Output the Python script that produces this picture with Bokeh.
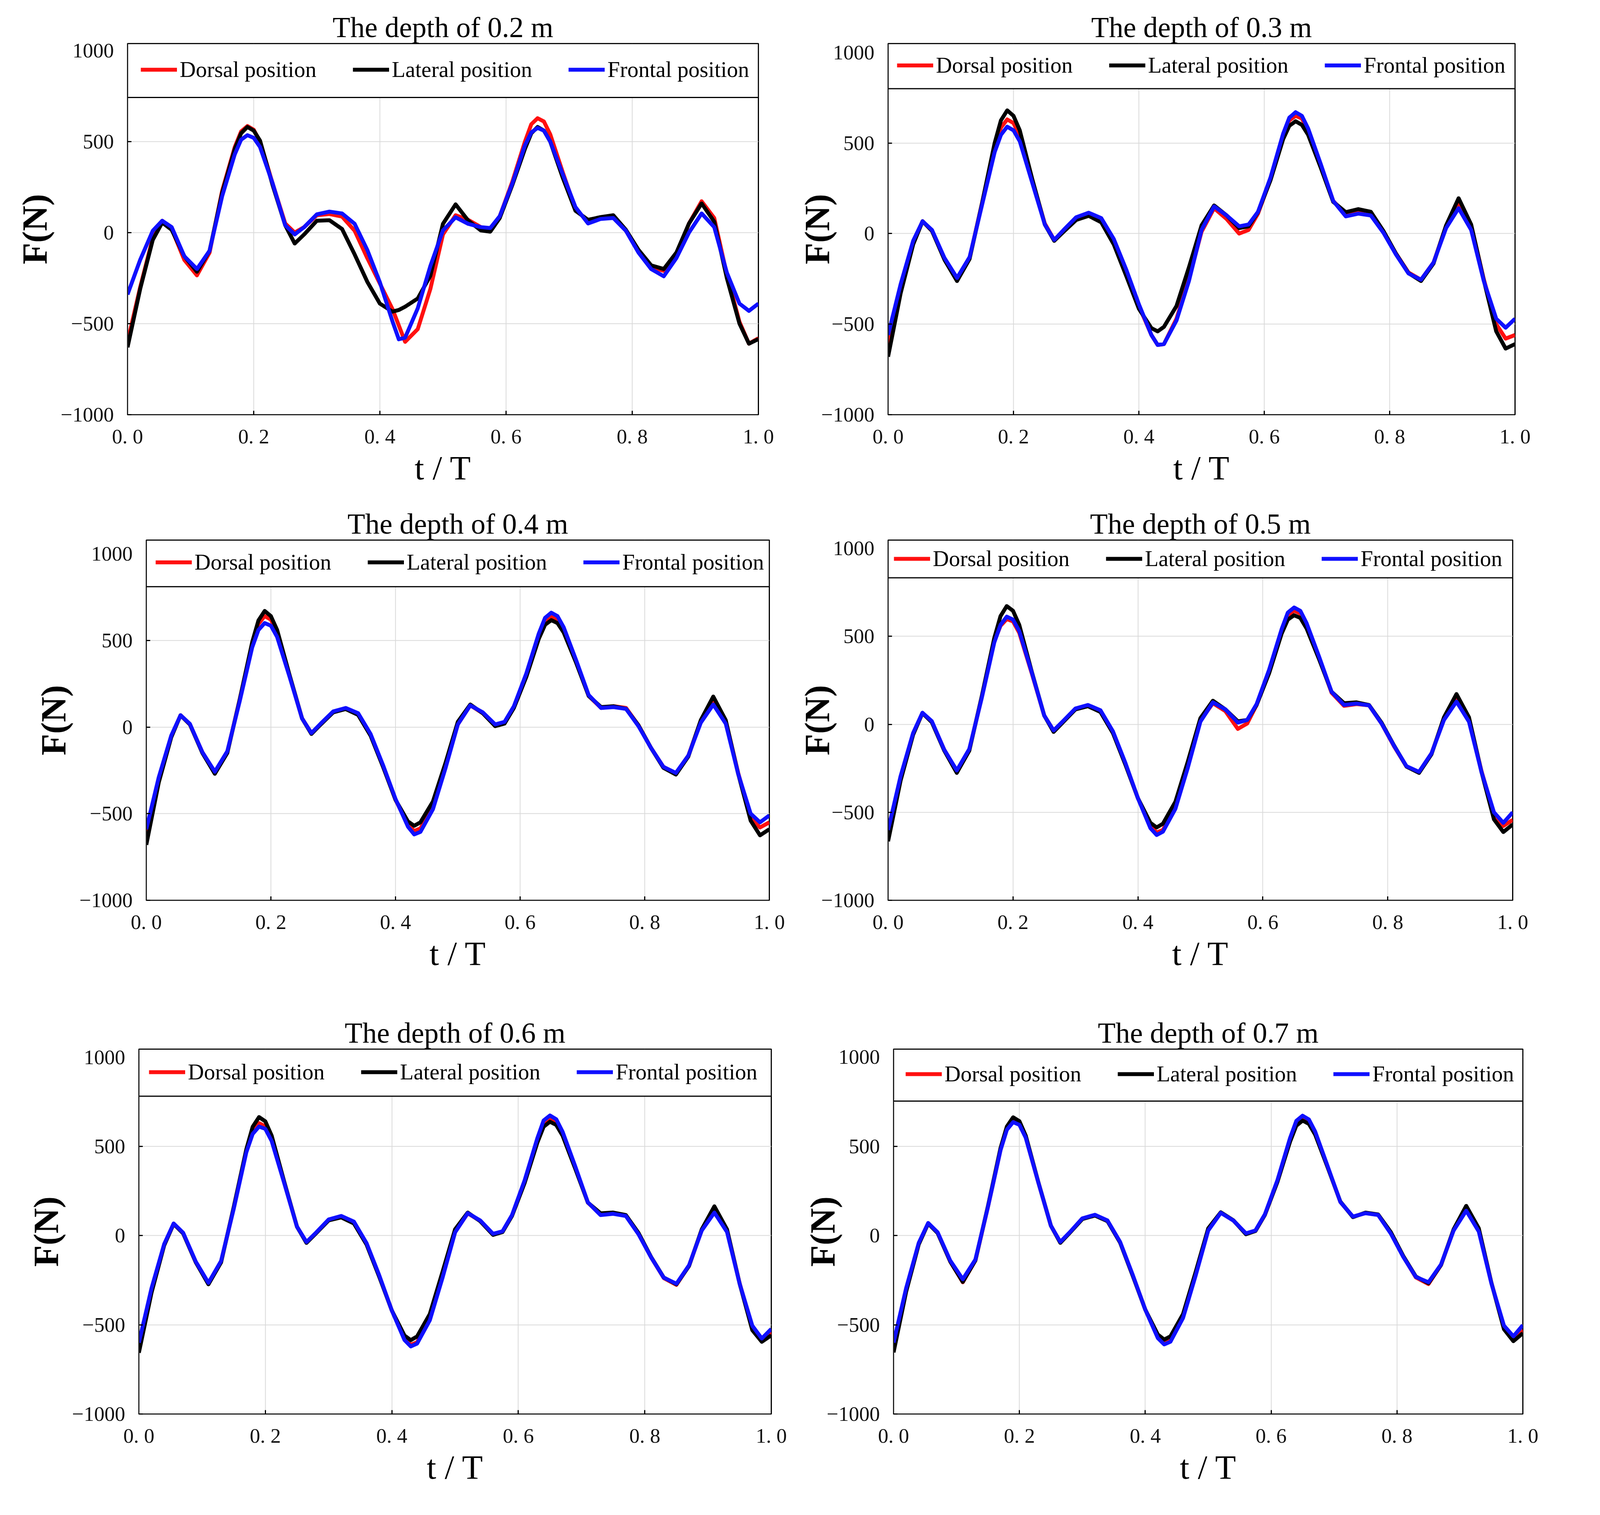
from bokeh.plotting import figure
from bokeh.models import (BoxAnnotation, Legend, LegendItem, FixedTicker,
                          CustomJSTickFormatter, Range1d)
from bokeh.layouts import column, row
from bokeh.embed import file_html
from bokeh.resources import INLINE

# time axis (t/T), shared by all panels
t = [0.0, 0.02, 0.04, 0.055, 0.07, 0.09, 0.11, 0.13, 0.15, 0.17, 0.18, 0.19, 0.20, 0.21,
     0.23, 0.25, 0.265, 0.28, 0.30, 0.32, 0.34, 0.36, 0.38, 0.40, 0.42, 0.43, 0.44, 0.46,
     0.48, 0.50, 0.52, 0.54, 0.56, 0.575, 0.59, 0.61, 0.63, 0.64, 0.65, 0.66, 0.67, 0.69,
     0.71, 0.73, 0.75, 0.77, 0.79, 0.81, 0.83, 0.85, 0.87, 0.89, 0.91, 0.93, 0.95, 0.97,
     0.985, 1.0]

titles = ["The depth of 0.2 m", "The depth of 0.3 m", "The depth of 0.4 m",
          "The depth of 0.5 m", "The depth of 0.6 m", "The depth of 0.7 m"]
series_names = ["Dorsal position", "Lateral position", "Frontal position"]

# depth 0.2 m
dorsal_02 = [-600, -300, -30, 65, 20, -150, -235, -110, 230, 470, 555, 585, 565, 500, 270, 50, 0, 30, 95, 102, 88, 10, -140, -280, -420, -510, -600, -530, -310, -10, 95, 70, 30, 20, 90, 280, 500, 595, 628, 610, 540, 330, 130, 60, 80, 90, 10, -100, -190, -210, -120, 50, 172, 80, -230, -490, -610, -580]
lateral_02 = [-630, -310, -40, 55, 15, -130, -215, -100, 220, 460, 545, 580, 560, 505, 260, 40, -60, -10, 65, 68, 20, -120, -270, -390, -434, -425, -407, -362, -237, 48, 155, 66, 12, 5, 80, 262, 460, 545, 580, 560, 500, 300, 120, 70, 85, 95, 15, -95, -180, -200, -110, 50, 160, 60, -250, -500, -610, -585]
frontal_02 = [-340, -150, 10, 65, 30, -130, -200, -100, 200, 430, 510, 535, 520, 470, 270, 40, -10, 30, 100, 115, 105, 48, -95, -273, -488, -586, -577, -416, -184, 12, 84, 48, 30, 25, 90, 270, 480, 550, 575, 560, 500, 320, 140, 50, 75, 80, 10, -110, -200, -240, -140, 0, 105, 30, -220, -390, -430, -390]

# depth 0.3 m
dorsal_03 = [-620, -310, -50, 68, 15, -140, -250, -135, 170, 480, 585, 630, 610, 540, 290, 55, -35, 15, 85, 105, 80, -45, -210, -400, -560, -615, -610, -470, -250, 10, 140, 80, 0, 20, 110, 300, 540, 625, 650, 635, 570, 380, 180, 105, 120, 110, 10, -110, -215, -255, -160, 40, 170, 45, -250, -500, -580, -560]
lateral_03 = [-680, -330, -60, 68, 15, -145, -262, -140, 170, 500, 625, 680, 650, 570, 300, 50, -40, 10, 75, 98, 62, -60, -235, -415, -522, -540, -515, -400, -185, 45, 155, 100, 30, 40, 118, 295, 520, 595, 620, 600, 545, 365, 175, 118, 135, 120, 15, -110, -218, -262, -165, 45, 195, 50, -255, -540, -635, -610]
frontal_03 = [-560, -280, -40, 68, 20, -135, -245, -130, 160, 450, 545, 590, 570, 510, 280, 50, -35, 20, 90, 115, 85, -30, -200, -390, -560, -615, -610, -480, -260, 20, 150, 100, 40, 50, 120, 310, 550, 640, 670, 650, 580, 385, 180, 95, 110, 100, 5, -115, -220, -255, -160, 30, 140, 20, -260, -470, -520, -470]

# depth 0.4 m
dorsal_04 = [-620, -300, -55, 68, 15, -145, -260, -145, 160, 480, 595, 640, 620, 545, 295, 50, -35, 15, 88, 106, 75, -45, -225, -420, -565, -600, -585, -460, -230, 15, 125, 80, 10, 25, 115, 300, 525, 610, 640, 620, 560, 375, 180, 110, 120, 110, 10, -120, -230, -268, -165, 35, 155, 35, -265, -520, -580, -550]
lateral_04 = [-680, -320, -60, 68, 15, -150, -270, -150, 160, 490, 615, 670, 640, 560, 300, 50, -40, 15, 85, 104, 70, -50, -230, -420, -545, -570, -550, -430, -210, 30, 130, 80, 5, 20, 110, 290, 510, 590, 617, 600, 545, 370, 180, 115, 120, 105, 10, -120, -235, -274, -170, 40, 176, 40, -270, -540, -625, -590]
frontal_04 = [-590, -290, -50, 68, 18, -145, -258, -140, 150, 460, 560, 600, 585, 520, 290, 50, -35, 20, 90, 110, 80, -40, -220, -415, -575, -620, -605, -475, -240, 15, 125, 85, 15, 30, 120, 310, 540, 630, 660, 640, 575, 385, 185, 110, 115, 105, 5, -120, -230, -265, -165, 25, 130, 20, -270, -500, -550, -510]

# depth 0.5 m
dorsal_05 = [-610, -300, -55, 64, 15, -145, -265, -145, 155, 470, 560, 598, 585, 520, 290, 50, -35, 15, 88, 106, 75, -45, -225, -420, -580, -615, -600, -470, -235, 20, 120, 75, -26, 5, 110, 300, 530, 620, 646, 630, 565, 380, 180, 105, 115, 108, 5, -125, -240, -272, -165, 30, 140, 25, -265, -510, -578, -543]
lateral_05 = [-665, -320, -60, 64, 12, -150, -276, -150, 160, 490, 615, 672, 645, 565, 300, 50, -43, 12, 85, 103, 70, -50, -230, -420, -560, -586, -565, -440, -210, 35, 134, 85, 17, 25, 110, 290, 515, 595, 620, 605, 545, 370, 185, 120, 125, 110, 10, -120, -240, -276, -170, 40, 172, 40, -270, -540, -612, -569]
frontal_05 = [-600, -295, -50, 66, 18, -145, -262, -140, 150, 465, 565, 612, 595, 530, 295, 50, -35, 18, 90, 110, 80, -40, -220, -420, -590, -629, -610, -480, -245, 15, 125, 85, 10, 25, 115, 310, 540, 635, 664, 645, 575, 385, 185, 110, 118, 108, 5, -122, -238, -270, -165, 25, 129, 15, -270, -500, -560, -500]

# depth 0.6 m
dorsal_06 = [-620, -305, -52, 66, 14, -148, -268, -146, 155, 475, 585, 630, 612, 540, 295, 50, -38, 14, 88, 108, 75, -45, -225, -420, -575, -612, -598, -465, -230, 20, 125, 82, 8, 22, 112, 305, 535, 630, 662, 642, 575, 382, 185, 118, 125, 112, 10, -122, -238, -276, -168, 30, 145, 28, -268, -515, -585, -540]
lateral_06 = [-657, -320, -55, 66, 12, -150, -273, -150, 160, 485, 610, 664, 640, 560, 300, 50, -41, 12, 85, 102, 68, -50, -230, -420, -560, -586, -565, -440, -205, 35, 129, 80, 4, 20, 110, 295, 520, 610, 638, 620, 560, 375, 185, 125, 129, 115, 15, -120, -235, -273, -170, 35, 164, 35, -270, -530, -595, -559]
frontal_06 = [-600, -295, -48, 68, 16, -146, -265, -142, 150, 468, 570, 611, 598, 530, 292, 50, -36, 16, 90, 110, 78, -42, -222, -420, -585, -621, -605, -475, -238, 18, 126, 84, 10, 24, 115, 310, 545, 645, 673, 652, 582, 388, 186, 115, 122, 110, 8, -122, -236, -270, -166, 28, 129, 20, -270, -505, -577, -523]

# depth 0.7 m
dorsal_07 = [-615, -300, -45, 68, 16, -145, -262, -140, 160, 480, 595, 645, 625, 550, 298, 55, -38, 16, 95, 115, 82, -38, -222, -415, -570, -600, -585, -455, -220, 30, 128, 84, 10, 26, 115, 305, 535, 630, 660, 640, 575, 382, 188, 105, 126, 116, 15, -118, -235, -272, -165, 32, 155, 35, -265, -515, -578, -530]
lateral_07 = [-655, -315, -50, 67, 14, -145, -260, -140, 165, 490, 610, 662, 640, 560, 300, 55, -41, 15, 92, 112, 80, -40, -225, -415, -555, -583, -565, -440, -205, 40, 130, 85, 7, 25, 115, 300, 525, 615, 644, 625, 565, 380, 190, 103, 128, 118, 20, -115, -230, -267, -165, 35, 166, 40, -265, -525, -592, -547]
frontal_07 = [-600, -295, -42, 70, 18, -140, -245, -135, 160, 478, 592, 635, 620, 548, 298, 55, -36, 18, 96, 116, 84, -36, -220, -415, -575, -610, -595, -462, -225, 28, 127, 84, 12, 28, 118, 310, 545, 642, 671, 650, 582, 386, 188, 106, 125, 115, 12, -120, -232, -262, -162, 28, 139, 22, -268, -505, -565, -502]

FONT = "Liberation Serif"
COLORS = ["#ff1010", "#000000", "#1010ff"]
SX = 0.93   # horizontal page scale
SY = 1.0    # vertical page scale
SF = 0.95   # text scale


def px(v):
    return int(round(v * SX))


def py(v):
    return int(round(v * SY))


def fs(v):
    return f"{v * SF:.0f}px"


def make_panel(title, curves, w, h, left, right, top, bottom, y_top, box_bottom, pad, label_gap):
    p = figure(width=px(w), height=py(h), title=title,
               x_range=Range1d(0, 1), y_range=Range1d(-1000, y_top),
               output_backend="svg", toolbar_location=None, tools="",
               min_border_left=px(left), min_border_right=px(right),
               min_border_top=py(top), min_border_bottom=py(bottom))
    p.background_fill_color = "white"
    p.border_fill_color = "white"
    p.outline_line_color = "black"
    p.outline_line_width = 3

    p.title.text_font = FONT
    p.title.text_font_size = fs(78)
    p.title.text_font_style = "normal"
    p.title.text_color = "black"
    p.title.align = "center"
    p.title.standoff = 2

    p.xaxis.ticker = FixedTicker(ticks=[0, 0.2, 0.4, 0.6, 0.8, 1.0])
    p.yaxis.ticker = FixedTicker(ticks=[-1000, -500, 0, 500, 1000])
    p.xaxis.formatter = CustomJSTickFormatter(code="return tick.toFixed(1).replace('.', '. ');")
    p.yaxis.formatter = CustomJSTickFormatter(
        code="return tick < 0 ? '\u2212' + Math.abs(tick) : tick.toFixed(0);")

    for ax in (p.xaxis[0], p.yaxis[0]):
        ax.axis_line_color = "#222222"
        ax.axis_line_width = 3
        ax.major_tick_in = 10
        ax.major_tick_out = 0
        ax.major_tick_line_width = 3
        ax.minor_tick_line_color = None
        ax.major_label_text_font = FONT
        ax.major_label_text_font_size = fs(56)
        ax.major_label_text_color = "#111111"
        ax.axis_label_text_font = FONT
        ax.axis_label_text_color = "black"
    p.xaxis.axis_label = "t / T"
    p.xaxis.axis_label_text_font_size = fs(92)
    p.xaxis.axis_label_text_font_style = "normal"
    p.xaxis.major_label_standoff = py(26)
    p.xaxis.axis_label_standoff = 0
    p.yaxis.axis_label = "F(N)"
    p.yaxis.axis_label_text_font_size = fs(95)
    p.yaxis.axis_label_text_font_style = "bold"
    p.yaxis.major_label_standoff = px(38)
    p.yaxis.axis_label_standoff = px(label_gap)

    p.grid.grid_line_color = "#d9d9d9"
    p.grid.grid_line_width = 2

    # legend strip across the top of the frame
    p.add_layout(BoxAnnotation(bottom=box_bottom, fill_color="white", fill_alpha=1,
                               line_color="black", line_width=3, line_alpha=1))

    items = []
    for name, color, ys in zip(series_names, COLORS, curves):
        r = p.line(t, ys, line_color=color, line_width=10, line_join="round")
        items.append(LegendItem(label=name, renderers=[r]))

    legend = Legend(items=items, location="top_left", orientation="horizontal",
                    margin=0, padding=py(pad), spacing=px(100), glyph_width=px(100),
                    glyph_height=20, label_standoff=px(8), label_text_font=FONT,
                    label_text_font_size=fs(60), label_text_color="black",
                    background_fill_alpha=0, border_line_alpha=0)
    p.add_layout(legend)
    return p


p1 = make_panel(titles[0], [dorsal_02, lateral_02, frontal_02], 2192, 1282,
                350, 105, 111, 221, 1038, 742, 34, 15)
p2 = make_panel(titles[1], [dorsal_03, lateral_03, frontal_03], 2197, 1282,
                239, 219, 106, 221, 1049, 800, 23, -45)
p3 = make_panel(titles[2], [dorsal_04, lateral_04, frontal_04], 2192, 1290,
                402, 75, 100, 268, 1079, 810, 24, 15)
p4 = make_panel(titles[3], [dorsal_05, lateral_05, frontal_05], 2197, 1290,
                250, 226, 92, 244, 1047, 833, 15, -45)
p5 = make_panel(titles[4], [dorsal_06, lateral_06, frontal_06], 2192, 1290,
                382, 70, 99, 240, 1045, 781, 26, 15)
p6 = make_panel(titles[5], [dorsal_07, lateral_07, frontal_07], 2197, 1290,
                267, 198, 113, 243, 1044, 753, 31, -45)

p = column(row(p1, p2), row(p3, p4), row(p5, p6))

open("out.html", "w").write(file_html(p, INLINE))
